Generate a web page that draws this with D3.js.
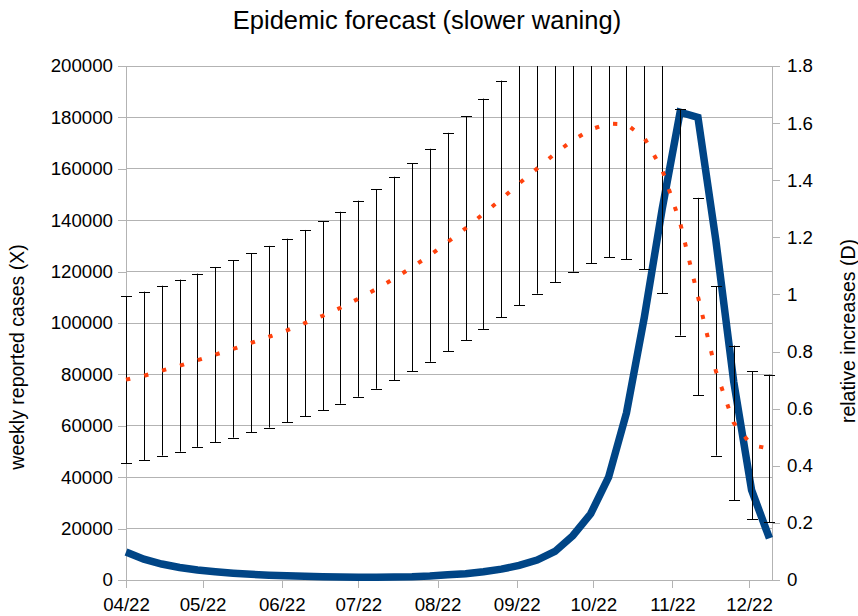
<!DOCTYPE html>
<html>
<head>
<meta charset="utf-8">
<script src="https://cdn.jsdelivr.net/npm/d3@7"></script>
<style>
    body { margin: 0; background: #ffffff; }
    text { font-family: "Liberation Sans", Arial, sans-serif; fill: #000; }
</style>
</head>
<body>
<div id="chart"></div>
<script>
// weekly dates (one point per week)
var weeks = ["2022-04-01", "2022-04-08", "2022-04-15", "2022-04-22", "2022-04-29",
    "2022-05-06", "2022-05-13", "2022-05-20", "2022-05-27",
    "2022-06-03", "2022-06-10", "2022-06-17", "2022-06-24",
    "2022-07-01", "2022-07-08", "2022-07-15", "2022-07-22", "2022-07-29",
    "2022-08-05", "2022-08-12", "2022-08-19", "2022-08-26",
    "2022-09-02", "2022-09-09", "2022-09-16", "2022-09-23", "2022-09-30",
    "2022-10-07", "2022-10-14", "2022-10-21", "2022-10-28",
    "2022-11-04", "2022-11-11", "2022-11-18", "2022-11-25",
    "2022-12-02", "2022-12-09"];

// weekly reported cases (X), left axis
var cases = [77950, 79450, 81450, 83400, 85500, 87700, 89900, 92250, 94650,
    97100, 99950, 102800, 105950, 109450, 113200, 117300, 121650, 126350,
    131500, 136850, 142500, 148250, 154300, 160100, 165900, 171100, 175300,
    177600, 177300, 172100, 159700, 139100, 110300, 81400, 61150, 52450, 51150];

// half length of the error bars on X
var casesErr = [32550, 32750, 33050, 33475, 33700, 34100, 34500, 34850, 35350,
    35700, 36250, 36800, 37350, 38150, 38800, 39600, 40450, 41450,
    42500, 43550, 44800, 46050, 47400, 48700, 50100, 51100, 52100,
    52000, 52400, 51100, 48100, 44000, 38400, 33000, 30050, 28850, 28700];

// relative increases (D), right axis
var relInc = [0.098, 0.073, 0.056, 0.044, 0.035, 0.029, 0.024, 0.020, 0.017,
    0.015, 0.013, 0.0115, 0.0105, 0.010, 0.010, 0.0105, 0.0115, 0.014,
    0.018, 0.022, 0.029, 0.038, 0.051, 0.070, 0.100, 0.155, 0.232,
    0.36, 0.585, 0.92, 1.30, 1.638, 1.62, 1.19, 0.695, 0.315, 0.146];

var leftTicks = d3.range(0, 200001, 20000);
var rightTicks = [0, 0.2, 0.4, 0.6, 0.8, 1, 1.2, 1.4, 1.6, 1.8];

var width = 858;
var height = 616;
var plotLeft = 126, plotRight = 772, plotTop = 66, plotBottom = 580;
var gridColor = "#b3b3b3";

var parseDate = d3.timeParse("%Y-%m-%d");
var data = weeks.map(function (w, i) {
    return { date: parseDate(w), x: cases[i], err: casesErr[i], d: relInc[i] };
});

var svg = d3.select("#chart")
    .append("svg")
    .attr("width", width)
    .attr("height", height);

var xScale = d3.scaleTime()
    .domain([parseDate("2022-04-01"), parseDate("2022-12-10")])
    .range([plotLeft, plotRight]);

var yLeft = d3.scaleLinear().domain([0, 200000]).range([plotBottom, plotTop]);
var yRight = d3.scaleLinear().domain([0, 1.8]).range([plotBottom, plotTop]);

// horizontal grid
svg.append("g")
    .selectAll("line")
    .data(leftTicks)
    .join("line")
    .attr("x1", plotLeft)
    .attr("x2", plotRight)
    .attr("y1", function (d) { return yLeft(d); })
    .attr("y2", function (d) { return yLeft(d); })
    .attr("stroke", gridColor)
    .attr("stroke-width", 1)
    .attr("shape-rendering", "crispEdges");

// axes
function styleAxis(g) {
    g.selectAll("path, line").attr("stroke", gridColor).attr("shape-rendering", "crispEdges");
    g.selectAll("text").attr("font-size", "18.7px").attr("fill", "#000")
        .attr("font-family", "'Liberation Sans', Arial, sans-serif");
}

svg.append("g")
    .attr("transform", "translate(" + plotLeft + ",0)")
    .call(d3.axisLeft(yLeft).tickValues(leftTicks).tickSize(8).tickSizeOuter(0)
        .tickPadding(5).tickFormat(d3.format("d")))
    .call(styleAxis);

svg.append("g")
    .attr("transform", "translate(" + plotRight + ",0)")
    .call(d3.axisRight(yRight).tickValues(rightTicks).tickSize(8).tickSizeOuter(0)
        .tickPadding(7).tickFormat(function (d) { return String(+d.toFixed(1)); }))
    .call(styleAxis);

svg.append("g")
    .attr("transform", "translate(0," + plotBottom + ")")
    .call(d3.axisBottom(xScale).ticks(d3.timeMonth.every(1)).tickSize(8).tickSizeOuter(0)
        .tickPadding(10).tickFormat(d3.timeFormat("%m/%y")))
    .call(styleAxis);

svg.append("clipPath")
    .attr("id", "plot-clip")
    .append("rect")
    .attr("x", plotLeft - 8)
    .attr("y", plotTop)
    .attr("width", plotRight - plotLeft + 16)
    .attr("height", plotBottom - plotTop);

// relative increases line
var lineD = d3.line()
    .x(function (d) { return xScale(d.date); })
    .y(function (d) { return yRight(d.d); });

svg.append("path")
    .datum(data)
    .attr("d", lineD)
    .attr("fill", "none")
    .attr("stroke", "#004586")
    .attr("stroke-width", 7.5)
    .attr("stroke-linejoin", "miter");

// error bars on X
var bars = svg.append("g")
    .attr("clip-path", "url(#plot-clip)")
    .attr("stroke", "#000")
    .attr("stroke-width", 1);

bars.selectAll(".eb")
    .data(data)
    .join("line")
    .attr("class", "eb")
    .attr("x1", function (d) { return Math.round(xScale(d.date)) + 0.5; })
    .attr("x2", function (d) { return Math.round(xScale(d.date)) + 0.5; })
    .attr("y1", function (d) { return yLeft(d.x - d.err); })
    .attr("y2", function (d) { return yLeft(d.x + d.err); });

bars.selectAll(".cap-top")
    .data(data)
    .join("line")
    .attr("class", "cap-top")
    .attr("x1", function (d) { return Math.round(xScale(d.date)) - 5; })
    .attr("x2", function (d) { return Math.round(xScale(d.date)) + 6; })
    .attr("y1", function (d) { return Math.round(yLeft(d.x + d.err)) + 0.5; })
    .attr("y2", function (d) { return Math.round(yLeft(d.x + d.err)) + 0.5; });

bars.selectAll(".cap-bottom")
    .data(data)
    .join("line")
    .attr("class", "cap-bottom")
    .attr("x1", function (d) { return Math.round(xScale(d.date)) - 5; })
    .attr("x2", function (d) { return Math.round(xScale(d.date)) + 6; })
    .attr("y1", function (d) { return Math.round(yLeft(d.x - d.err)) + 0.5; })
    .attr("y2", function (d) { return Math.round(yLeft(d.x - d.err)) + 0.5; });

// weekly reported cases, dotted
var lineX = d3.line()
    .x(function (d) { return xScale(d.date); })
    .y(function (d) { return yLeft(d.x); });

svg.append("path")
    .datum(data)
    .attr("d", lineX)
    .attr("fill", "none")
    .attr("stroke", "#ff420e")
    .attr("stroke-width", 4)
    .attr("stroke-dasharray", "4.3,14.3");

// titles
svg.append("text")
    .attr("x", 427)
    .attr("y", 28.5)
    .attr("text-anchor", "middle")
    .attr("font-size", "25.5px")
    .text("Epidemic forecast (slower waning)");

svg.append("text")
    .attr("transform", "translate(24,357) rotate(-90)")
    .attr("text-anchor", "middle")
    .attr("font-size", "19.5px")
    .text("weekly reported cases (X)");

svg.append("text")
    .attr("transform", "translate(855,331) rotate(-90)")
    .attr("text-anchor", "middle")
    .attr("font-size", "19.5px")
    .text("relative increases (D)");
</script>
</body>
</html>
